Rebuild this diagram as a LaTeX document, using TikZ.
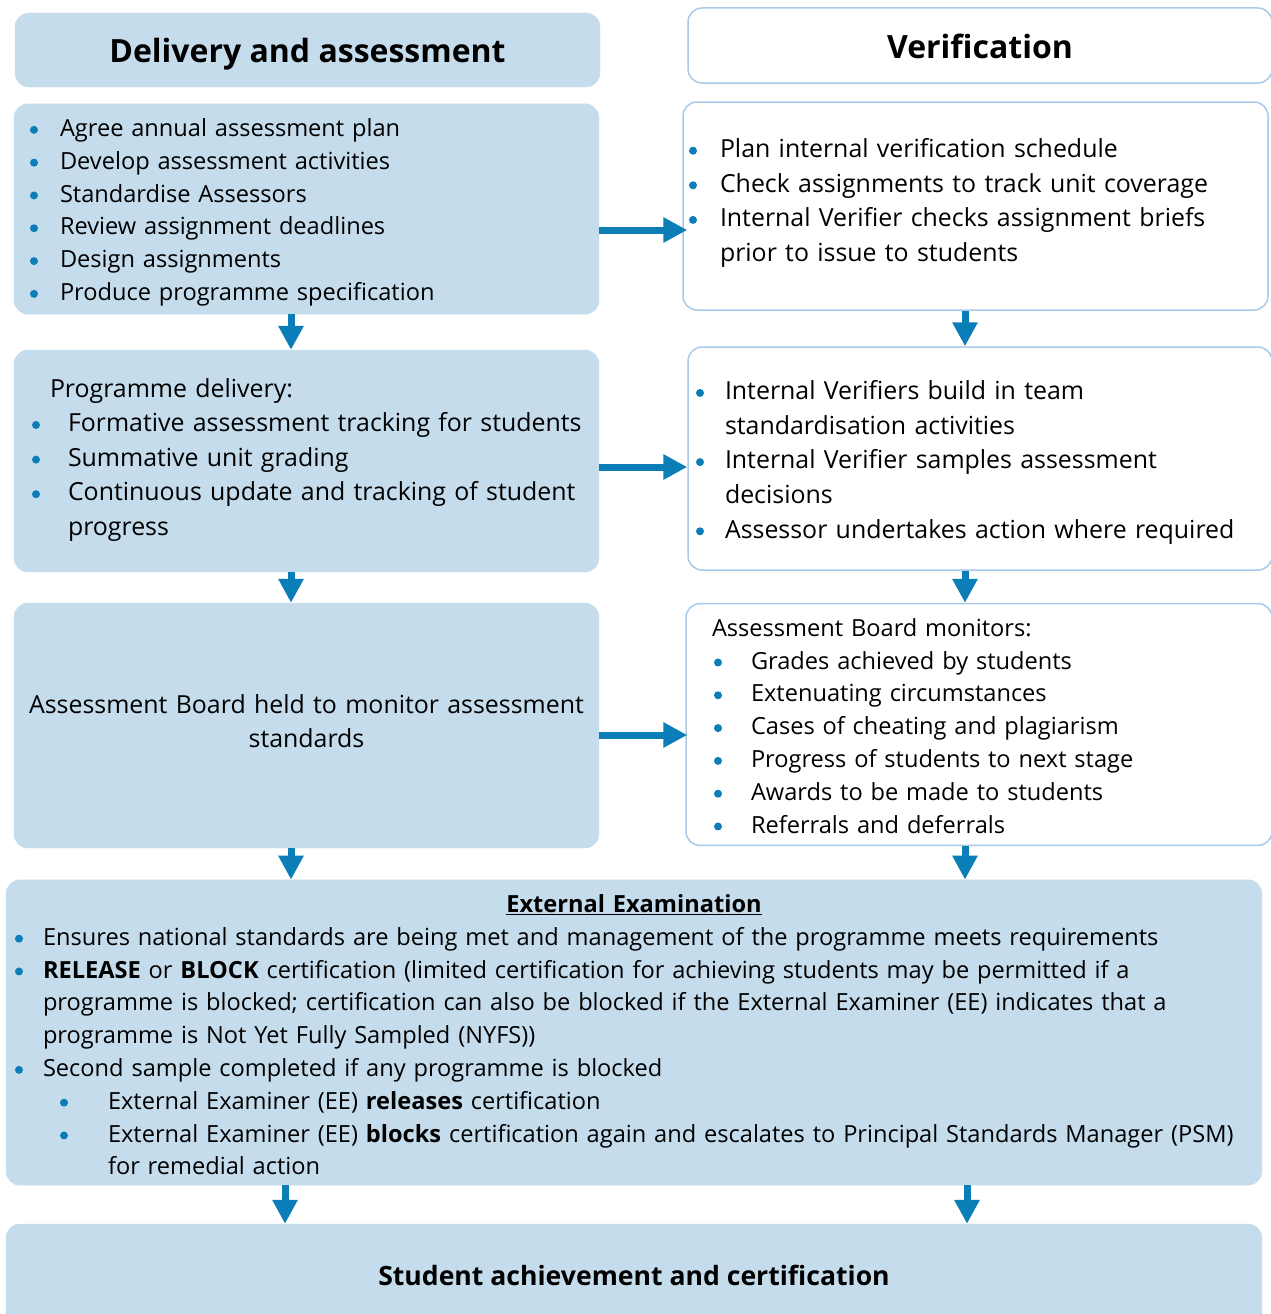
\documentclass[tikz,border=0pt]{standalone}
\usepackage{fontspec}
\setmainfont{Open Sans}
\usetikzlibrary{arrows.meta}

\definecolor{boxfill}{HTML}{C5DCEC}
\definecolor{boxline}{HTML}{A9CAE8}
\definecolor{flowblue}{HTML}{0B7DB7}
\newcommand\bdot{\tikz[baseline=0pt]\fill[flowblue] (0pt,6.7pt) circle (4pt);}
\newcommand\itm[2]{\par\noindent\hangindent=#2pt\hangafter=1\hbox to #2pt{\hskip#1pt\bdot\hss}\ignorespaces}
\newcommand\smallbody{\fontsize{23.6}{32.8}\selectfont}
\newcommand\bigbody{\fontsize{24.9}{34.6}\selectfont}
\newcommand\headfont{\fontsize{32}{38}\selectfont\bfseries}

\begin{document}
\begin{tikzpicture}[x=1pt,y=-1pt,
    fullbox/.style={fill=boxfill,draw=boxfill,rounded corners=14pt,inner sep=0pt,align=left},
    openbox/.style={fill=white,draw=boxline,line width=1.5pt,rounded corners=14pt,inner sep=0pt,align=left},
    flow/.style={draw=flowblue,line width=7pt,-{Triangle[length=24pt,width=24pt]}}]
        \useasboundingbox (0,0) rectangle (1270,1314);

        \node[fullbox,minimum width=585pt,minimum height=74pt,text height=30pt,text depth=4pt,font=\headfont]
            (delhead) at (307.5,50) {Delivery and assessment};
        \node[openbox,minimum width=584pt,minimum height=75pt,text height=30pt,text depth=4pt,font=\headfont]
            (verhead) at (980,45.5) {Verification};

        \node[fullbox,text width=585pt,minimum height=206pt,font=\smallbody] (plan) at (306.5,209) {
            \itm{16}{46}Agree annual assessment plan
            \itm{16}{46}Develop assessment activities
            \itm{16}{46}Standardise Assessors
            \itm{16}{46}Review assignment deadlines
            \itm{16}{46}Design assignments
            \itm{16}{46}Produce programme specification\par\kern8pt};
        \node[openbox,text width=585pt,minimum height=208pt,font=\bigbody] (ivplan) at (975.5,206) {
            \itm{6}{37}Plan internal verification schedule
            \itm{6}{37}Check assignments to track unit coverage
            \itm{6}{37}Internal Verifier checks assignment briefs\newline prior to issue to students\par\kern22pt};

        \node[fullbox,text width=585pt,minimum height=222pt,font=\bigbody] (deliver) at (306.5,461) {
            \par\noindent\hspace*{36pt}Programme delivery:
            \itm{18}{54}Formative assessment tracking for students
            \itm{18}{54}Summative unit grading
            \itm{18}{54}Continuous update and tracking of student\newline progress\par\kern18pt};
        \node[openbox,text width=584pt,minimum height=223pt,font=\bigbody] (ivsample) at (980,458.5) {
            \itm{8}{37}Internal Verifiers build in team\newline standardisation activities
            \itm{8}{37}Internal Verifier samples assessment\newline decisions
            \itm{8}{37}Assessor undertakes action where required\par\kern8pt};

        \node[fullbox,text width=585pt,minimum height=245pt,align=center,font=\bigbody] (board) at (306.5,725.5)
            {Assessment Board held to monitor assessment\\standards\par\kern9pt};
        \node[openbox,text width=586pt,minimum height=241pt,font=\smallbody] (monitor) at (979,724.5) {
            \par\noindent\hspace*{26pt}Assessment Board monitors:
            \itm{28}{65}Grades achieved by students
            \itm{28}{65}Extenuating circumstances
            \itm{28}{65}Cases of cheating and plagiarism
            \itm{28}{65}Progress of students to next stage
            \itm{28}{65}Awards to be made to students
            \itm{28}{65}Referrals and deferrals\par\kern12pt};

        \node[fullbox,text width=1256pt,minimum height=303pt,font=\smallbody] (extexam) at (634,1032.5) {
            \par\noindent\hbox to\hsize{\hfil\textbf{\underline{External Examination}}\hfil}
            \itm{9}{37}Ensures national standards are being met and management of the programme meets requirements
            \itm{9}{37}\textbf{RELEASE} or \textbf{BLOCK} certification (limited certification for achieving students may be permitted if a\newline
                programme is blocked; certification can also be blocked if the External Examiner (EE) indicates that a\newline
                programme is Not Yet Fully Sampled (NYFS))
            \itm{9}{37}Second sample completed if any programme is blocked
            \itm{54}{102}External Examiner (EE) \textbf{releases} certification
            \itm{54}{102}External Examiner (EE) \textbf{blocks} certification again and escalates to Principal Standards Manager (PSM)\newline
                for remedial action\par\kern10pt};

        \node[fullbox,minimum width=1256pt,minimum height=102pt,font=\fontsize{26.6}{32}\selectfont\bfseries]
            (award) at (634,1275) {Student achievement and certification};

        \draw[flow,shorten >=-5pt] ([yshift=-21pt]plan.east) -- ([yshift=-21pt]plan.east -| ivplan.west);
        \draw[flow] ([yshift=-6pt]deliver.east) -- ([yshift=-6pt]deliver.east -| ivsample.west);
        \draw[flow,shorten >=-2pt] ([yshift=-9.5pt]board.east) -- ([yshift=-9.5pt]board.east -| monitor.west);

        \draw[flow] ([xshift=-15.5pt]plan.south) -- ([xshift=-15.5pt]plan.south |- deliver.north);
        \draw[flow] ([xshift=-15.5pt]deliver.south) -- ([xshift=-15.5pt]deliver.south |- board.north);
        \draw[flow] ([xshift=-15.5pt]board.south) -- ([xshift=-15.5pt]board.south |- extexam.north);
        \draw[flow] ([xshift=-10.5pt]ivplan.south) -- ([xshift=-10.5pt]ivplan.south |- ivsample.north);
        \draw[flow] ([xshift=-15pt]ivsample.south) -- ([xshift=-15pt]ivsample.south |- monitor.north);
        \draw[flow] ([xshift=-14pt]monitor.south) -- ([xshift=-14pt]monitor.south |- extexam.north);

        \draw[flow] ([xshift=-349pt]extexam.south) -- ([xshift=-349pt]extexam.south |- award.north);
        \draw[flow] ([xshift=333pt]extexam.south) -- ([xshift=333pt]extexam.south |- award.north);
\end{tikzpicture}
\end{document}
